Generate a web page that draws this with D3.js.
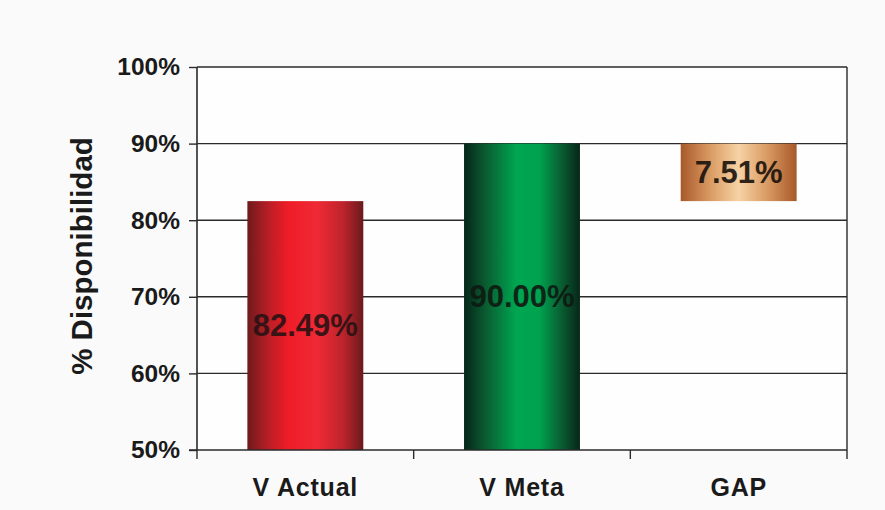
<!DOCTYPE html>
<html>
<head>
<meta charset="utf-8">
<script src="https://cdn.jsdelivr.net/npm/d3@7"></script>
<style>
html,body{margin:0;padding:0;background:#fff;}
svg{display:block;}
text{font-family:"Liberation Sans",Arial,sans-serif;font-weight:bold;}
</style>
</head>
<body>
<svg id="chart" width="885" height="510"></svg>
<script>
const categories = ["V Actual", "V Meta", "GAP"];
const barBase = [50, 50, 82.49];
const barTop = [82.49, 90.00, 90.00];
const barLabels = ["82.49%", "90.00%", "7.51%"];
const yTicks = [50, 60, 70, 80, 90, 100];
const yTitle = "% Disponibilidad";

const svg = d3.select("#chart");
const W = 885, H = 510;
const m = {left: 197, right: 38, top: 67, bottom: 60};
const pw = W - m.left - m.right, ph = H - m.top - m.bottom;

svg.append("rect").attr("width", W).attr("height", H).attr("fill", "#fafafa");

const defs = svg.append("defs");
function grad(id, stops) {
  const g = defs.append("linearGradient").attr("id", id)
    .attr("x1", "0%").attr("x2", "100%").attr("y1", "0%").attr("y2", "0%");
  stops.forEach(s => g.append("stop").attr("offset", s[0]).attr("stop-color", s[1]));
}
grad("gRed", [["0%", "#6e1a1c"], ["18%", "#b81e26"], ["35%", "#ee1c27"], ["60%", "#ef2a36"], ["82%", "#c0242c"], ["100%", "#6a1a1c"]]);
grad("gGreen", [["0%", "#06261a"], ["18%", "#0a5a30"], ["45%", "#00a651"], ["65%", "#00a24f"], ["85%", "#0a5a30"], ["100%", "#06261a"]]);
grad("gCopper", [["0%", "#a8582a"], ["25%", "#d99a62"], ["50%", "#f7d2a4"], ["75%", "#d99a62"], ["100%", "#a8582a"]]);
const fills = ["url(#gRed)", "url(#gGreen)", "url(#gCopper)"];
const labelColors = ["#2a1214", "#0e1a12", "#1a120c"];

const g = svg.append("g").attr("transform", `translate(${m.left},${m.top})`);
g.append("rect").attr("width", pw).attr("height", ph).attr("fill", "#fefefe");

const x = d3.scaleBand().domain(categories).range([0, pw]).paddingInner(0.465).paddingOuter(0.2325);
const x0 = d3.scaleBand().domain(categories).range([0, pw]);
const y = d3.scaleLinear().domain([50, 100]).range([ph, 0]);

// gridlines
g.append("g").selectAll("line").data(yTicks.filter(t => t > 50)).join("line")
  .attr("x1", 0).attr("x2", pw).attr("y1", d => y(d)).attr("y2", d => y(d))
  .attr("stroke", "#2a2a2a").attr("stroke-width", 1.4);
// right border
g.append("line").attr("x1", pw).attr("x2", pw).attr("y1", 0).attr("y2", ph)
  .attr("stroke", "#2a2a2a").attr("stroke-width", 1.4);

// bars
const idx = d3.range(categories.length);
g.append("g").selectAll("rect").data(idx).join("rect")
  .attr("x", i => x(categories[i])).attr("width", x.bandwidth())
  .attr("y", i => y(barTop[i])).attr("height", i => y(barBase[i]) - y(barTop[i]))
  .attr("fill", i => fills[i]);

// labels
g.append("g").selectAll("text").data(idx).join("text")
  .attr("x", i => x(categories[i]) + x.bandwidth() / 2)
  .attr("y", i => (y(barBase[i]) + y(barTop[i])) / 2)
  .attr("text-anchor", "middle").attr("dominant-baseline", "central")
  .attr("font-size", 31).attr("fill", (i) => labelColors[i]).attr("opacity", 0.9)
  .text(i => barLabels[i]);

// y axis
const ya = g.append("g").call(d3.axisLeft(y).tickValues(yTicks).tickFormat(d => d + "%").tickSize(8).tickPadding(9));
ya.select(".domain").attr("stroke", "#2a2a2a").attr("stroke-width", 1.6).attr("d", `M0,0V${ph}`);
ya.selectAll(".tick line").attr("stroke", "#2a2a2a").attr("stroke-width", 1.4);
ya.selectAll(".tick text").attr("font-size", 24.5).attr("fill", "#1a1a1a")
  .attr("font-family", "Liberation Sans, Arial, sans-serif").attr("font-weight", "bold");

// x axis
const xa = g.append("g").attr("transform", `translate(0,${ph})`)
  .call(d3.axisBottom(x0).tickSize(0).tickPadding(28));
xa.select(".domain").attr("stroke", "#2a2a2a").attr("stroke-width", 1.6).attr("d", `M-8,0H${pw}`);
xa.selectAll(".tick text").attr("font-size", 25).attr("fill", "#1a1a1a")
  .attr("font-family", "Liberation Sans, Arial, sans-serif").attr("font-weight", "bold")
  .attr("letter-spacing", 0.8);
// separator ticks between categories
const sep = [0].concat(categories.map(c => x0(c) + x0.bandwidth()));
g.append("g").selectAll("line").data(sep).join("line")
  .attr("x1", d => d).attr("x2", d => d).attr("y1", ph).attr("y2", ph + 9)
  .attr("stroke", "#2a2a2a").attr("stroke-width", 1.4);

// y title
svg.append("text").attr("transform", "translate(92,256) rotate(-90)")
  .attr("text-anchor", "middle").attr("font-size", 29.5).attr("fill", "#1a1a1a")
  .text(yTitle);
</script>
</body>
</html>
